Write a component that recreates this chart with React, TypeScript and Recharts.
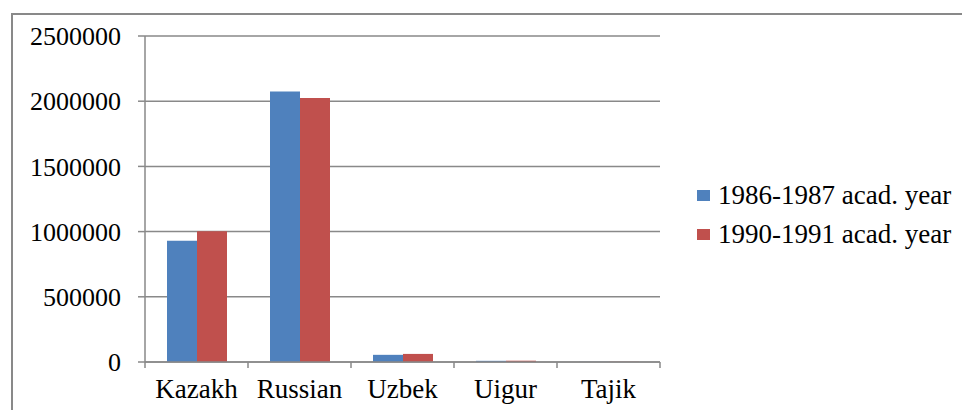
import React from "react";
import { BarChart, Bar, XAxis, YAxis, CartesianGrid, Legend } from "recharts";

const categories = ["Kazakh", "Russian", "Uzbek", "Uigur", "Tajik"];
const year1986 = [930000, 2075000, 55000, 9000, 1000];
const year1990 = [1002000, 2025000, 62000, 10000, 1500];
const yTicks = [0, 500000, 1000000, 1500000, 2000000, 2500000];
const seriesNames = ["1986-1987 acad. year", "1990-1991 acad. year"];

const data = categories.map((c, i) => ({
  name: c,
  a: year1986[i],
  b: year1990[i],
}));

const FONT = "'Liberation Serif', 'Times New Roman', serif";
const GRAY = "#898989";
const TICK_MARGIN = 17;
const TICK_LEN = 6;

const CategoryTick = (props: any) => {
  const { x, y, payload, index, width } = props;
  const half =
    payload && typeof payload.offset === "number" && payload.offset > 0
      ? payload.offset
      : width / categories.length / 2;
  const axisY = y - TICK_MARGIN;
  const isLast = index === categories.length - 1;
  return (
    <g>
      <line x1={x - half} x2={x - half} y1={axisY} y2={axisY + TICK_LEN} stroke={GRAY} strokeWidth={1.5} />
      {isLast && (
        <line x1={x + half} x2={x + half} y1={axisY} y2={axisY + TICK_LEN} stroke={GRAY} strokeWidth={1.5} />
      )}
      <text
        x={x}
        y={y}
        dy="0.71em"
        textAnchor="middle"
        fontFamily={FONT}
        fontSize={27}
        fill="#000"
      >
        {payload.value}
      </text>
    </g>
  );
};

const LegendContent = (props: any) => {
  const payload = props.payload || [];
  return (
    <div style={{ fontFamily: FONT, fontSize: 27, color: "#000" }}>
      {payload.map((p: any, i: number) => (
        <div key={i} style={{ display: "flex", alignItems: "center", height: 39, whiteSpace: "nowrap" }}>
          <span style={{ display: "inline-block", width: 13, height: 11, background: p.color, marginRight: 8 }} />
          <span>{p.value}</span>
        </div>
      ))}
    </div>
  );
};

export default function App() {
  return (
    <div style={{ position: "absolute", left: 0, top: 0, width: 962, height: 410, background: "#fff", overflow: "hidden" }}>
      <div
        style={{
          position: "absolute",
          left: 11,
          top: 13,
          width: 962,
          height: 410,
          borderTop: `2px solid ${GRAY}`,
          borderLeft: `2px solid ${GRAY}`,
          boxSizing: "border-box",
        }}
      />
      <div style={{ position: "absolute", left: 0, top: 0 }}>
        <BarChart
          width={962}
          height={410}
          data={data}
          margin={{ top: 36, right: 302, bottom: 0, left: 11 }}
          barGap={0}
          barSize={30}
        >
          <CartesianGrid horizontal={true} vertical={false} stroke={GRAY} strokeWidth={1.5} />
          <XAxis
            dataKey="name"
            tickLine={false}
            tickSize={0}
            tickMargin={TICK_MARGIN}
            axisLine={{ stroke: GRAY, strokeWidth: 1.5 }}
            height={48}
            tick={<CategoryTick />}
            interval={0}
          />
          <YAxis
            domain={[0, 2500000]}
            ticks={yTicks}
            width={134}
            tickSize={7}
            tickMargin={17}
            axisLine={{ stroke: GRAY, strokeWidth: 1.5 }}
            tickLine={{ stroke: GRAY, strokeWidth: 1.5 }}
            tick={{ fontFamily: FONT, fontSize: 26, fill: "#000" }}
            interval={0}
          />
          <Legend
            layout="horizontal"
            verticalAlign="middle"
            align="center"
            content={<LegendContent />}
            wrapperStyle={{ left: 697, top: 176, width: 265 }}
          />
          <Bar dataKey="a" name={seriesNames[0]} fill="#4F81BD" isAnimationActive={false} />
          <Bar dataKey="b" name={seriesNames[1]} fill="#C0504D" isAnimationActive={false} />
        </BarChart>
      </div>
    </div>
  );
}
